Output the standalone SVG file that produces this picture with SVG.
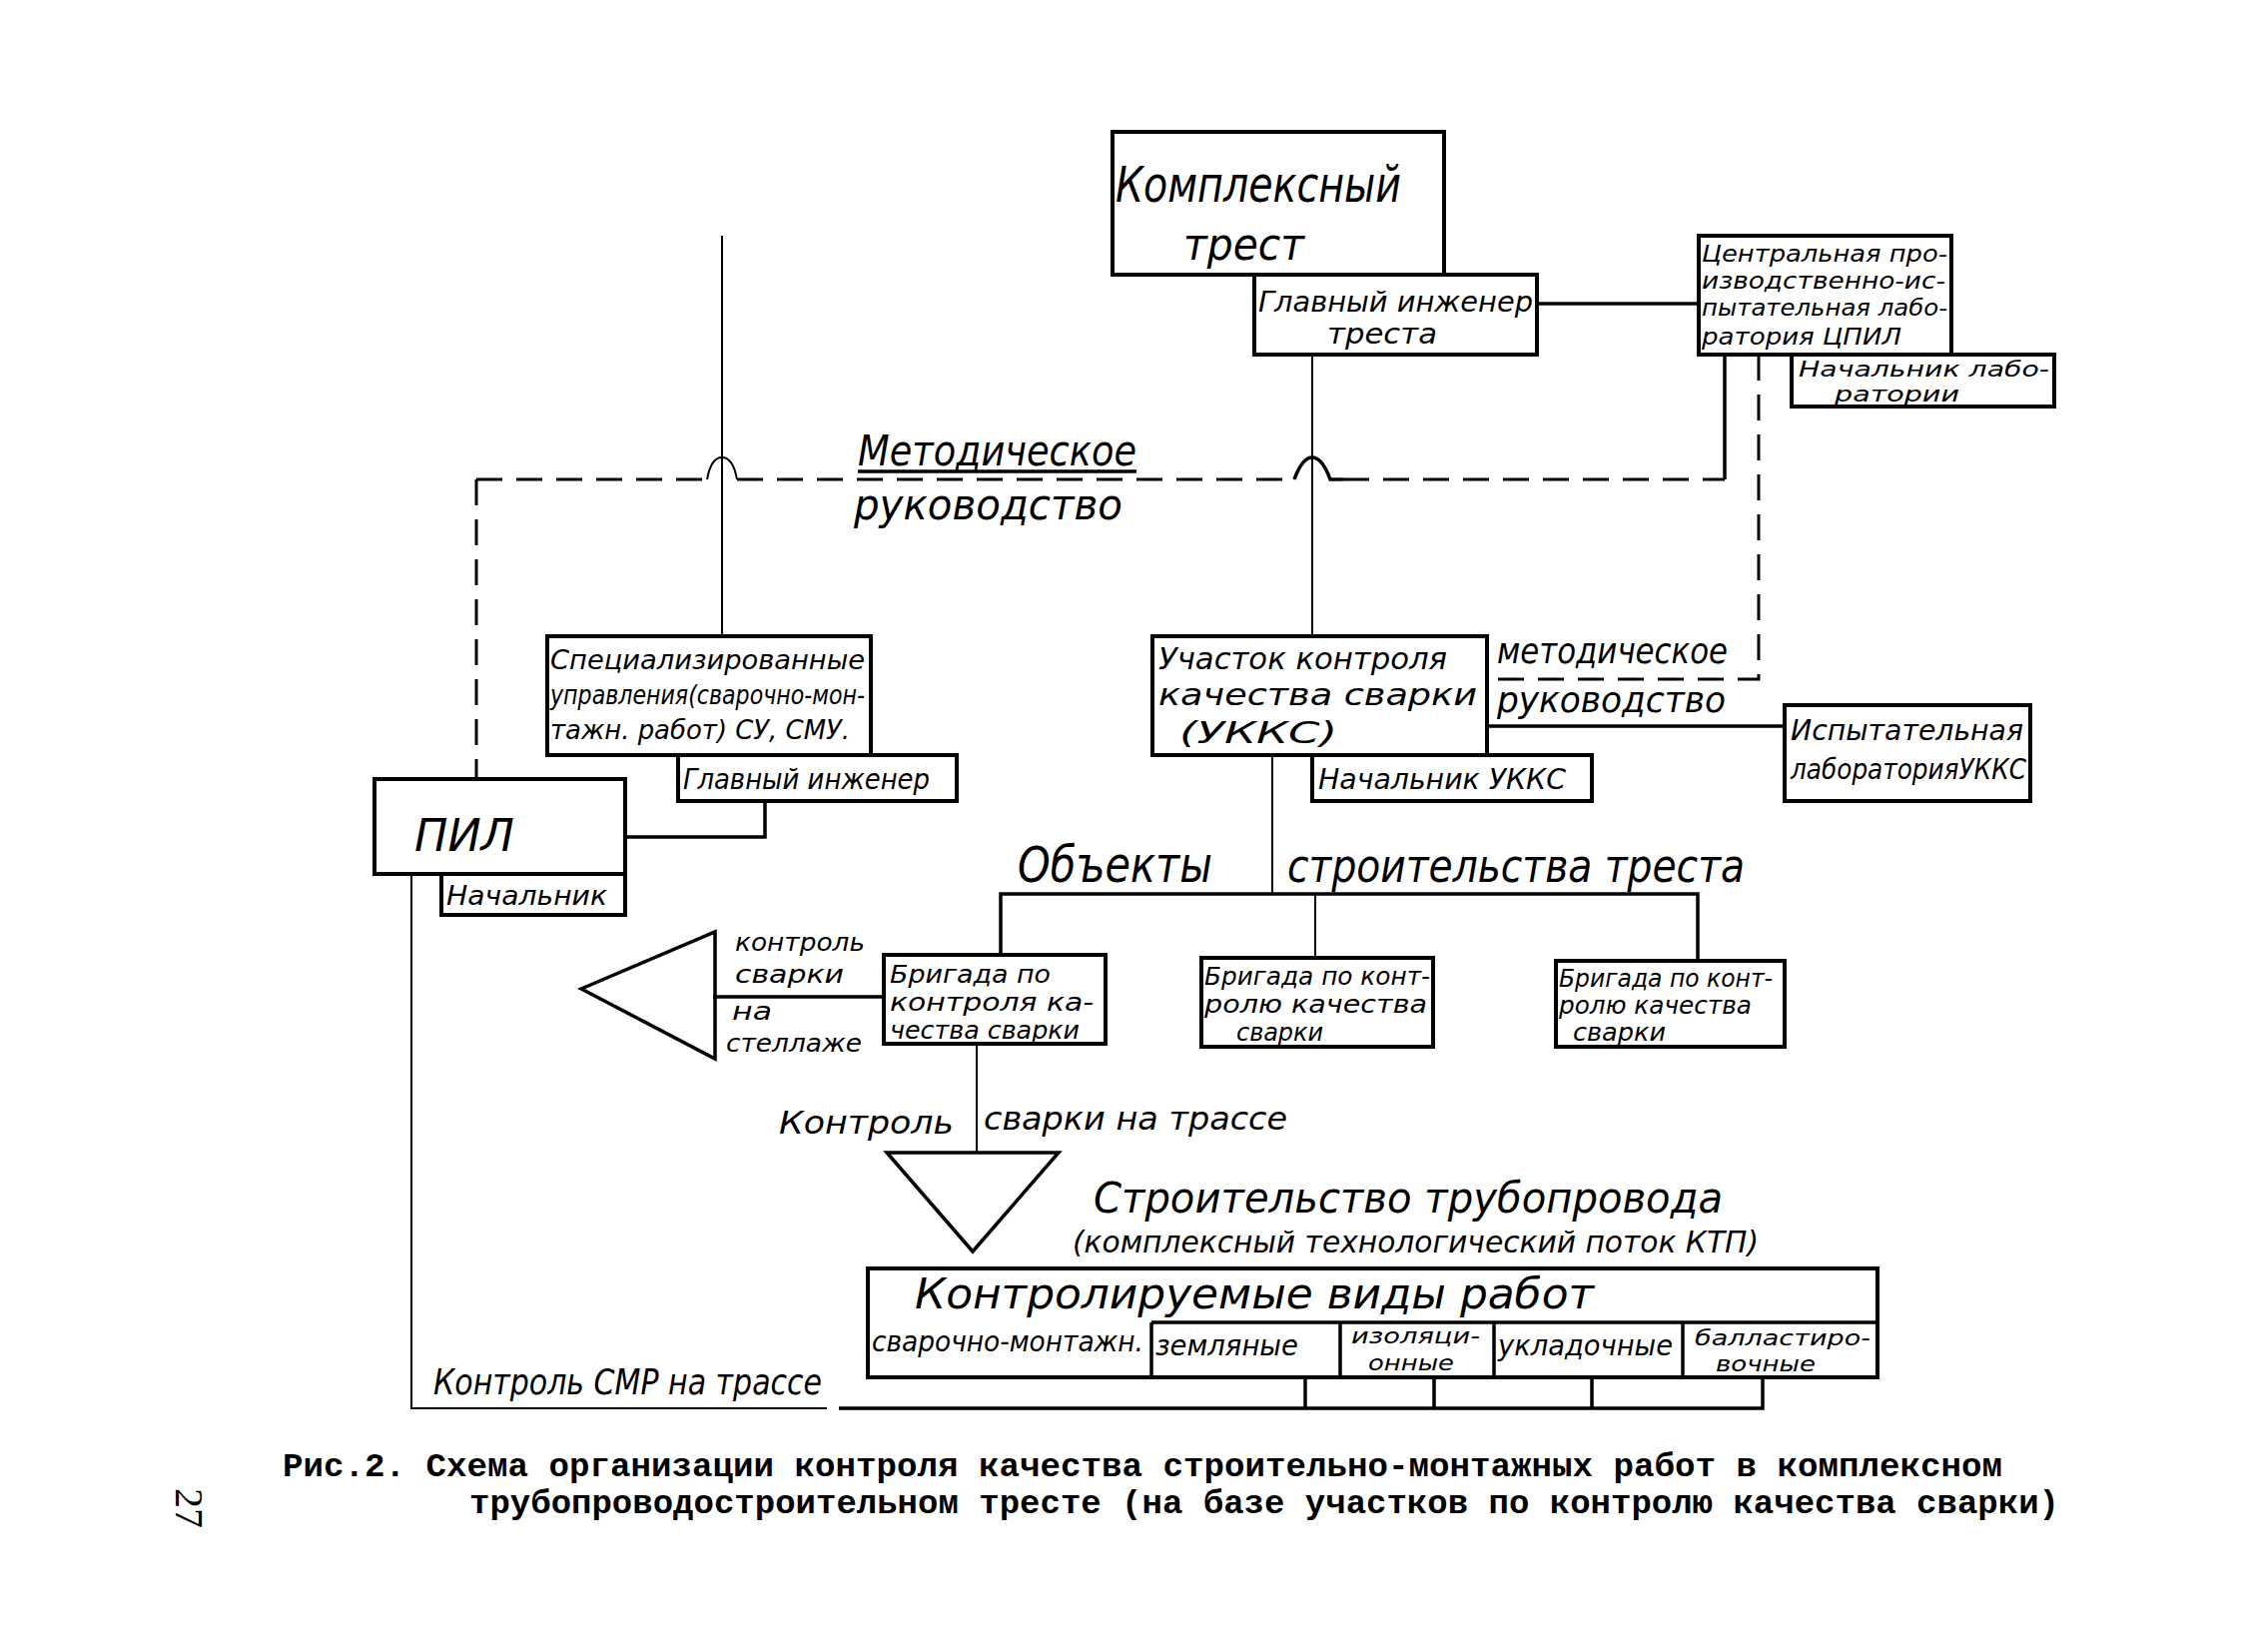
<svg xmlns="http://www.w3.org/2000/svg" width="2245" height="1654" viewBox="0 0 2245 1654">
<style>
.box{fill:none;stroke:#000;stroke-width:4}
.ln{fill:none;stroke:#000;stroke-width:3.5}
.thin{fill:none;stroke:#000;stroke-width:2}
.dash{fill:none;stroke:#000;stroke-width:3;stroke-dasharray:26 14}
.h{font-family:"DejaVu Sans","Liberation Sans",sans-serif;font-style:italic;fill:#000}
.cap{font-family:"Liberation Mono","DejaVu Sans Mono",monospace;font-weight:bold;font-size:34px;fill:#000}
</style>
<rect width="2245" height="1654" fill="#fff"/>

<g id="connectors">
  <line class="ln" x1="1539" y1="304" x2="1701" y2="304"/>
  <line class="thin" x1="1314" y1="355" x2="1314" y2="637"/>
  <line class="thin" x1="723" y1="236" x2="723" y2="637"/>
  <path class="dash" d="M477,480 H708"/>
  <path class="thin" d="M708,480 Q712,458 723,458 Q734,458 738,480"/>
  <path class="dash" d="M738,480 H1296"/>
  <path class="ln" d="M1296,480 Q1304,458 1314,458 Q1324,458 1332,480 H1345"/>
  <path class="dash" d="M1345,480 H1727"/>
  <line class="ln" x1="1727" y1="355" x2="1727" y2="480"/>
  <line class="dash" x1="477" y1="480" x2="477" y2="780"/>
  <line class="ln" x1="859" y1="472" x2="1138" y2="472"/>
  <path class="dash" d="M1761,355 V680 H1489"/>
  <line class="ln" x1="1489" y1="727" x2="1787" y2="727"/>
  <path class="ln" d="M766,802 V838 H626"/>
  <line class="thin" x1="1274" y1="756" x2="1274" y2="895"/>
  <path class="ln" d="M1002,956 V895 H1700 V962"/>
  <line class="thin" x1="1317" y1="895" x2="1317" y2="959"/>
  <line class="ln" x1="885" y1="998" x2="714" y2="998"/>
  <line class="thin" x1="978" y1="1045" x2="978" y2="1154"/>
  <path class="thin" d="M412,875 V1410 H828"/>
  <path class="ln" d="M840,1410 H1765 V1379"/>
  <line class="ln" x1="1307" y1="1379" x2="1307" y2="1410"/>
  <line class="ln" x1="1436" y1="1379" x2="1436" y2="1410"/>
  <line class="ln" x1="1594" y1="1379" x2="1594" y2="1410"/>
</g>

<g id="kompleksny-trest">
  <rect class="box" x="1114" y="132" width="332" height="143"/>
  <text class="h" x="1117" y="202" font-size="50" textLength="286" lengthAdjust="spacingAndGlyphs">Комплексный</text>
  <text class="h" x="1185" y="260" font-size="44" textLength="121" lengthAdjust="spacingAndGlyphs">трест</text>
</g>

<g id="glavny-inzhener-tresta">
  <rect class="box" x="1256" y="275" width="283" height="80"/>
  <text class="h" x="1260" y="312" font-size="28" textLength="275" lengthAdjust="spacingAndGlyphs">Главный инженер</text>
  <text class="h" x="1329" y="344" font-size="28" textLength="110" lengthAdjust="spacingAndGlyphs">треста</text>
</g>

<g id="cpil">
  <rect class="box" x="1701" y="236" width="253" height="119"/>
  <text class="h" x="1704" y="262" font-size="23" textLength="246" lengthAdjust="spacingAndGlyphs">Центральная про-</text>
  <text class="h" x="1704" y="289" font-size="23" textLength="244" lengthAdjust="spacingAndGlyphs">изводственно-ис-</text>
  <text class="h" x="1704" y="316" font-size="23" textLength="246" lengthAdjust="spacingAndGlyphs">пытательная лабо-</text>
  <text class="h" x="1704" y="345" font-size="23" textLength="200" lengthAdjust="spacingAndGlyphs">ратория ЦПИЛ</text>
</g>

<g id="nachalnik-laboratorii">
  <rect class="box" x="1794" y="355" width="263" height="52"/>
  <text class="h" x="1801" y="377" font-size="21" textLength="251" lengthAdjust="spacingAndGlyphs">Начальник лабо-</text>
  <text class="h" x="1837" y="402" font-size="21" textLength="125" lengthAdjust="spacingAndGlyphs">ратории</text>
</g>

<g id="metod-rukovodstvo-1">
  <text class="h" x="859" y="466" font-size="42" textLength="279" lengthAdjust="spacingAndGlyphs">Методическое</text>
  <text class="h" x="855" y="520" font-size="42" textLength="269" lengthAdjust="spacingAndGlyphs">руководство</text>
</g>

<g id="specializirovannye">
  <rect class="box" x="548" y="637" width="324" height="119"/>
  <text class="h" x="551" y="670" font-size="26" textLength="315" lengthAdjust="spacingAndGlyphs">Специализированные</text>
  <text class="h" x="551" y="705" font-size="26" textLength="315" lengthAdjust="spacingAndGlyphs">управления(сварочно-мон-</text>
  <text class="h" x="551" y="740" font-size="26" textLength="300" lengthAdjust="spacingAndGlyphs">тажн. работ) СУ, СМУ.</text>
</g>

<g id="glavny-inzhener-su">
  <rect class="box" x="679" y="756" width="279" height="46"/>
  <text class="h" x="684" y="790" font-size="28" textLength="247" lengthAdjust="spacingAndGlyphs">Главный инженер</text>
</g>

<g id="pil">
  <rect class="box" x="375" y="780" width="251" height="95"/>
  <text class="h" x="415" y="852" font-size="44" textLength="100" lengthAdjust="spacingAndGlyphs">ПИЛ</text>
</g>

<g id="pil-nachalnik">
  <rect class="box" x="442" y="875" width="184" height="41"/>
  <text class="h" x="447" y="906" font-size="26" textLength="161" lengthAdjust="spacingAndGlyphs">Начальник</text>
</g>

<g id="ukks">
  <rect class="box" x="1154" y="637" width="335" height="119"/>
  <text class="h" x="1160" y="670" font-size="31" textLength="289" lengthAdjust="spacingAndGlyphs">Участок контроля</text>
  <text class="h" x="1160" y="706" font-size="31" textLength="319" lengthAdjust="spacingAndGlyphs">качества сварки</text>
  <text class="h" x="1181" y="744" font-size="31" textLength="158" lengthAdjust="spacingAndGlyphs">(УККС)</text>
</g>

<g id="nachalnik-ukks">
  <rect class="box" x="1314" y="756" width="280" height="46"/>
  <text class="h" x="1320" y="790" font-size="28" textLength="248" lengthAdjust="spacingAndGlyphs">Начальник УККС</text>
</g>

<g id="metod-rukovodstvo-2">
  <text class="h" x="1499" y="664" font-size="36" textLength="231" lengthAdjust="spacingAndGlyphs">методическое</text>
  <text class="h" x="1499" y="713" font-size="36" textLength="229" lengthAdjust="spacingAndGlyphs">руководство</text>
</g>

<g id="ispyt-laboratoriya">
  <rect class="box" x="1787" y="706" width="246" height="96"/>
  <text class="h" x="1793" y="741" font-size="28" textLength="233" lengthAdjust="spacingAndGlyphs">Испытательная</text>
  <text class="h" x="1793" y="780" font-size="28" textLength="236" lengthAdjust="spacingAndGlyphs">лабораторияУККС</text>
</g>

<g id="obekty">
  <text class="h" x="1019" y="883" font-size="50" textLength="195" lengthAdjust="spacingAndGlyphs">Объекты</text>
  <text class="h" x="1289" y="883" font-size="46" textLength="458" lengthAdjust="spacingAndGlyphs">строительства треста</text>
</g>

<g id="brigada-1">
  <rect class="box" x="885" y="956" width="222" height="89"/>
  <text class="h" x="891" y="984" font-size="24" textLength="161" lengthAdjust="spacingAndGlyphs">Бригада по</text>
  <text class="h" x="891" y="1012" font-size="24" textLength="204" lengthAdjust="spacingAndGlyphs">контроля ка-</text>
  <text class="h" x="891" y="1040" font-size="24" textLength="190" lengthAdjust="spacingAndGlyphs">чества сварки</text>
</g>

<g id="brigada-2">
  <rect class="box" x="1203" y="959" width="232" height="89"/>
  <text class="h" x="1206" y="986" font-size="24" textLength="226" lengthAdjust="spacingAndGlyphs">Бригада по конт-</text>
  <text class="h" x="1206" y="1014" font-size="24" textLength="223" lengthAdjust="spacingAndGlyphs">ролю качества</text>
  <text class="h" x="1238" y="1042" font-size="24" textLength="87" lengthAdjust="spacingAndGlyphs">сварки</text>
</g>

<g id="brigada-3">
  <rect class="box" x="1558" y="962" width="229" height="86"/>
  <text class="h" x="1561" y="988" font-size="24" textLength="214" lengthAdjust="spacingAndGlyphs">Бригада по конт-</text>
  <text class="h" x="1561" y="1015" font-size="24" textLength="193" lengthAdjust="spacingAndGlyphs">ролю качества</text>
  <text class="h" x="1575" y="1042" font-size="24" textLength="93" lengthAdjust="spacingAndGlyphs">сварки</text>
</g>

<g id="kontrol-na-stellazhe">
  <polygon class="ln" points="582,990 716,933 716,1060"/>
  <text class="h" x="736" y="952" font-size="24" textLength="130" lengthAdjust="spacingAndGlyphs">контроль</text>
  <text class="h" x="736" y="984" font-size="24" textLength="109" lengthAdjust="spacingAndGlyphs">сварки</text>
  <text class="h" x="733" y="1021" font-size="24" textLength="40" lengthAdjust="spacingAndGlyphs">на</text>
  <text class="h" x="727" y="1053" font-size="24" textLength="136" lengthAdjust="spacingAndGlyphs">стеллаже</text>
</g>

<g id="kontrol-na-trasse">
  <text class="h" x="780" y="1135" font-size="32" textLength="175" lengthAdjust="spacingAndGlyphs">Контроль</text>
  <text class="h" x="985" y="1131" font-size="32" textLength="304" lengthAdjust="spacingAndGlyphs">сварки на трассе</text>
  <polygon class="ln" points="888,1154 1060,1154 974,1253"/>
</g>

<g id="stroitelstvo-truboprovoda">
  <text class="h" x="1095" y="1214" font-size="42" textLength="630" lengthAdjust="spacingAndGlyphs">Строительство  трубопровода</text>
  <text class="h" x="1074" y="1254" font-size="30" textLength="687" lengthAdjust="spacingAndGlyphs">(комплексный технологический поток КТП)</text>
</g>

<g id="kontroliruemye-vidy-rabot">
  <rect class="box" x="869" y="1270" width="1011" height="109"/>
  <line class="ln" x1="1153" y1="1324" x2="1880" y2="1324"/>
  <line class="ln" x1="1153" y1="1324" x2="1153" y2="1379"/>
  <line class="ln" x1="1342" y1="1324" x2="1342" y2="1379"/>
  <line class="ln" x1="1496" y1="1324" x2="1496" y2="1379"/>
  <line class="ln" x1="1685" y1="1324" x2="1685" y2="1379"/>
  <text class="h" x="916" y="1310" font-size="42" textLength="680" lengthAdjust="spacingAndGlyphs">Контролируемые   виды   работ</text>
  <text class="h" x="873" y="1353" font-size="28" textLength="272" lengthAdjust="spacingAndGlyphs">сварочно-монтажн.</text>
  <text class="h" x="1157" y="1357" font-size="28" textLength="143" lengthAdjust="spacingAndGlyphs">земляные</text>
  <text class="h" x="1353" y="1345" font-size="21" textLength="129" lengthAdjust="spacingAndGlyphs">изоляци-</text>
  <text class="h" x="1370" y="1372" font-size="21" textLength="86" lengthAdjust="spacingAndGlyphs">онные</text>
  <text class="h" x="1500" y="1357" font-size="28" textLength="175" lengthAdjust="spacingAndGlyphs">укладочные</text>
  <text class="h" x="1697" y="1347" font-size="21" textLength="176" lengthAdjust="spacingAndGlyphs">балластиро-</text>
  <text class="h" x="1718" y="1373" font-size="21" textLength="100" lengthAdjust="spacingAndGlyphs">вочные</text>
</g>

<g id="kontrol-smr">
  <text class="h" x="434" y="1396" font-size="36" textLength="389" lengthAdjust="spacingAndGlyphs">Контроль СМР на трассе</text>
</g>

<g id="caption">
  <text class="cap" x="283" y="1478" textLength="1722" lengthAdjust="spacingAndGlyphs">Рис.2. Схема организации контроля качества строительно-монтажных работ в комплексном</text>
  <text class="cap" x="470" y="1515" textLength="1592" lengthAdjust="spacingAndGlyphs">трубопроводостроительном тресте (на базе участков по контролю качества сварки)</text>
  <text x="176" y="1490" font-family="Liberation Serif, serif" font-size="40" transform="rotate(90 176 1490)">27</text>
</g>
</svg>
